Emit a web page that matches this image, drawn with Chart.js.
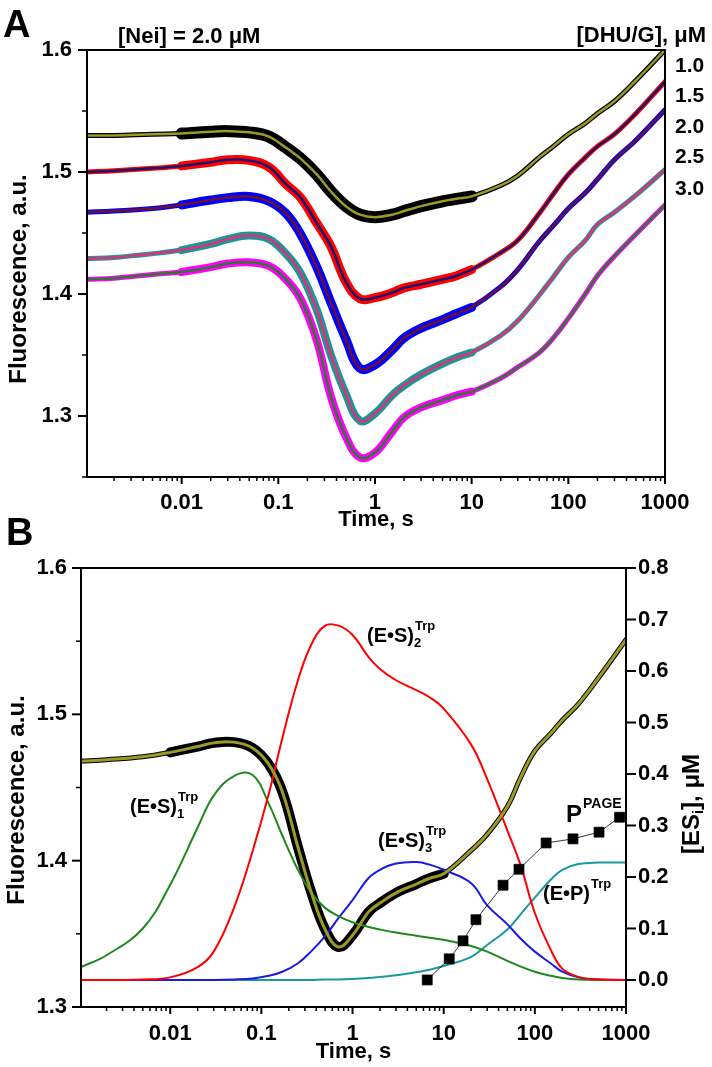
<!DOCTYPE html>
<html>
<head>
<meta charset="utf-8">
<script src="https://cdn.jsdelivr.net/npm/chart.js@4"></script>
<style>
body { margin:0; background:#fff; width:712px; height:1067px; position:relative; overflow:hidden; }
#chartA { position:absolute; left:0; top:0; }
#chartB { position:absolute; left:0; top:510px; }
</style>
</head>
<body>
<canvas id="chartA" width="712" height="540"></canvas>
<canvas id="chartB" width="712" height="557"></canvas>
<script>
// time points (s)
const times = [0.00105, 0.002, 0.005, 0.01, 0.02, 0.03, 0.05, 0.08, 0.12, 0.17, 0.25, 0.35, 0.5, 0.7,
               1, 1.5, 2, 3, 5, 7, 10, 20, 30, 50, 70, 100, 150, 200, 300, 500, 1000];

// panel A, fluorescence for each [DHU/G]
const dhu10 = [1.530, 1.530, 1.531, 1.5315, 1.533, 1.5335, 1.5325, 1.529, 1.520, 1.511, 1.498, 1.484, 1.472, 1.465,
               1.463, 1.465, 1.468, 1.472, 1.476, 1.478, 1.480, 1.489, 1.497, 1.512, 1.521, 1.531, 1.540, 1.548, 1.558, 1.575, 1.600];
const dhu15 = [1.500, 1.501, 1.503, 1.505, 1.508, 1.510, 1.5095, 1.504, 1.490, 1.479, 1.458, 1.439, 1.410, 1.396,
               1.397, 1.401, 1.405, 1.408, 1.412, 1.415, 1.420, 1.434, 1.444, 1.466, 1.482, 1.498, 1.512, 1.521, 1.531, 1.548, 1.574];
const dhu20 = [1.467, 1.468, 1.470, 1.473, 1.477, 1.479, 1.480, 1.476, 1.466, 1.449, 1.422, 1.393, 1.363, 1.339,
               1.342, 1.354, 1.364, 1.372, 1.379, 1.384, 1.389, 1.406, 1.420, 1.443, 1.456, 1.470, 1.483, 1.494, 1.510, 1.526, 1.551];
const dhu25 = [1.429, 1.430, 1.433, 1.436, 1.441, 1.445, 1.448, 1.445, 1.433, 1.417, 1.387, 1.350, 1.318, 1.296,
               1.302, 1.317, 1.325, 1.334, 1.343, 1.348, 1.352, 1.366, 1.378, 1.399, 1.414, 1.430, 1.444, 1.457, 1.467, 1.481, 1.502];
const dhu30 = [1.412, 1.413, 1.416, 1.418, 1.422, 1.425, 1.426, 1.423, 1.412, 1.396, 1.362, 1.316, 1.283, 1.266,
               1.270, 1.287, 1.299, 1.307, 1.313, 1.317, 1.320, 1.331, 1.340, 1.352, 1.364, 1.380, 1.400, 1.415, 1.431, 1.449, 1.473];
const concLabels = ['1.0', '1.5', '2.0', '2.5', '3.0'];

// panel B, fluorescence (left axis) and species (right axis, uM)
const fluorB = [1.468, 1.469, 1.471, 1.474, 1.478, 1.4805, 1.481, 1.477, 1.466, 1.447, 1.410, 1.379, 1.353, 1.341,
                1.349, 1.365, 1.371, 1.378, 1.384, 1.388, 1.391, 1.407, 1.418, 1.437, 1.457, 1.475, 1.487, 1.496, 1.507, 1.525, 1.551];
const es1 = [0.025, 0.048, 0.10, 0.185, 0.296, 0.358, 0.396, 0.398, 0.343, 0.28, 0.215, 0.17, 0.14, 0.124,
             0.112, 0.103, 0.098, 0.092, 0.086, 0.082, 0.078, 0.066, 0.055, 0.037, 0.026, 0.016, 0.008, 0.004, 0.001, 0, 0];
const es2 = [0, 0, 0.001, 0.005, 0.025, 0.055, 0.14, 0.25, 0.36, 0.47, 0.58, 0.65, 0.688, 0.688,
             0.67, 0.627, 0.604, 0.582, 0.563, 0.549, 0.527, 0.457, 0.39, 0.29, 0.222, 0.13, 0.058, 0.022, 0.006, 0.001, 0];
const es3 = [0, 0, 0, 0, 0, 0, 0.001, 0.003, 0.008, 0.016, 0.032, 0.055, 0.085, 0.12,
             0.155, 0.198, 0.214, 0.226, 0.229, 0.224, 0.214, 0.188, 0.145, 0.108, 0.08, 0.055, 0.032, 0.016, 0.005, 0.001, 0];
const ep = [0, 0, 0, 0, 0, 0, 0, 0, 0, 0, 0, 0, 0.001, 0.001,
            0.002, 0.004, 0.006, 0.009, 0.015, 0.02, 0.027, 0.045, 0.068, 0.098, 0.128, 0.16, 0.195, 0.214, 0.225, 0.228, 0.228];
const pageTimes = [6.6, 11.5, 16.3, 22.6, 44.8, 67, 133, 262, 506, 850];
const pageVals = [0.0, 0.041, 0.076, 0.117, 0.184, 0.215, 0.266, 0.274, 0.287, 0.316];

// tick labels
const xDecades = [0.01, 0.1, 1, 10, 100, 1000];
const xTickLabels = ['0.01', '0.1', '1', '10', '100', '1000'];
const rightTicks = [0, 0.05, 0.1, 0.15, 0.2, 0.25, 0.3, 0.35, 0.4, 0.45, 0.5, 0.55, 0.6, 0.65, 0.7, 0.75, 0.8];

const FAM = '"Liberation Sans", Arial, sans-serif';
Chart.defaults.font.family = FAM;
Chart.defaults.font.weight = 'bold';
Chart.defaults.font.size = 22;
Chart.defaults.color = '#000';
const fnt = s => 'bold ' + s + 'px ' + FAM;

const pts = ys => times.map((t, i) => ({x: t, y: ys[i]}));
const span = (ys, lo, hi) => pts(ys).filter(p => p.x >= lo && p.x <= hi);

const logTicks = [];
for (let e = -3; e <= 2; e++) for (let m = 1; m <= 9; m++) {
  const v = m * Math.pow(10, e);
  if (v >= 0.00105) logTicks.push(v);
}
logTicks.push(1000);

function xLabel(v) {
  const i = xDecades.findIndex(d => Math.abs(d - v) / d < 1e-6);
  return i >= 0 ? xTickLabels[i] : '';
}
const tenth = v => Math.abs(v * 10 - Math.round(v * 10)) < 1e-6 ? v.toFixed(1) : '';

function line(data, color, width, order, axis) {
  return {data, borderColor: color, borderWidth: width, order, yAxisID: axis || 'y',
          showLine: true, pointRadius: 0, tension: 0.4,
          borderJoinStyle: 'round', borderCapStyle: 'round'};
}

function xAxis(h, pb, pad) {
  return {type: 'logarithmic', min: 0.00105, max: 1000,
    afterBuildTicks: s => { s.ticks = logTicks.map(v => ({value: v})); },
    afterFit: s => { s.height = h; },
    ticks: {callback: xLabel, padding: pad, maxRotation: 0, autoSkip: false},
    grid: {display: false, drawTicks: false},
    border: {display: true, width: 2, color: '#000'},
    title: {display: true, text: 'Time, s', font: {size: 22}, padding: {top: 0, bottom: pb}}};
}

// ticks and frame
const frame = {
  id: 'frame',
  afterDraw(chart) {
    const {ctx, chartArea: a} = chart;
    ctx.save();
    ctx.strokeStyle = '#000';
    ctx.lineWidth = 2;
    ctx.strokeRect(a.left, a.top, a.right - a.left, a.bottom - a.top);
    Object.values(chart.scales).forEach(s => {
      s.ticks.forEach(t => {
        const p = s.getPixelForValue(t.value);
        const major = t.label !== '';
        ctx.lineWidth = major ? 2 : 1.5;
        ctx.beginPath();
        if (s.position === 'bottom') {
          ctx.moveTo(p, s.top); ctx.lineTo(p, s.top + (major ? 7 : 4));
        } else if (s.position === 'left') {
          ctx.moveTo(s.right, p); ctx.lineTo(s.right - (major ? 9 : 5), p);
        } else {
          ctx.moveTo(s.left, p); ctx.lineTo(s.left + (major ? 10 : 5), p);
        }
        ctx.stroke();
      });
    });
    ctx.restore();
  }
};

function vtitle(ctx, x, y, parts) {
  ctx.save();
  ctx.translate(x, y);
  ctx.rotate(-Math.PI / 2);
  ctx.textBaseline = 'middle';
  let w = 0;
  parts.forEach(p => { ctx.font = fnt(p.size); w += ctx.measureText(p.t).width; });
  let cx = -w / 2;
  parts.forEach(p => {
    ctx.font = fnt(p.size);
    ctx.fillText(p.t, cx, p.dy || 0);
    cx += ctx.measureText(p.t).width;
  });
  ctx.restore();
}

function species(ctx, x, y, base, sub, sup) {
  ctx.font = fnt(20);
  ctx.fillText(base, x, y);
  const w = ctx.measureText(base).width;
  ctx.font = fnt(13);
  ctx.fillText(sup, x + w + 1, y - 12);
  if (sub) ctx.fillText(sub, x + w, y + 5);
}

// ---------- panel A ----------
const styleA = [
  {raw: '#000000', fit: '#9a9a24', band: 12},
  {raw: '#ff0000', fit: '#16166e', band: 9},
  {raw: '#0000ff', fit: '#6e0f2e', band: 9},
  {raw: '#1a9696', fit: '#e0307a', band: 8},
  {raw: '#ff00ff', fit: '#2d7a2d', band: 8}
];
const seriesA = [dhu10, dhu15, dhu20, dhu25, dhu30];
const dsA = [];
seriesA.forEach((ys, i) => {
  const st = styleA[i];
  dsA.push(line(pts(ys), st.fit, 2.5, 0));
  dsA.push(line(span(ys, 0.01, 10), st.raw, st.band, 5 + i));
  dsA.push(line(pts(ys), st.raw, 5, 10 + i));
});

new Chart(document.getElementById('chartA'), {
  type: 'scatter',
  data: {datasets: dsA},
  options: {
    responsive: false, animation: false,
    layout: {padding: {top: 50, right: 47, left: 0, bottom: 0}},
    plugins: {legend: {display: false}, tooltip: {enabled: false}},
    scales: {
      x: xAxis(63, 7, 13),
      y: {min: 1.25, max: 1.6,
        ticks: {stepSize: 0.05, callback: tenth, padding: 15},
        afterFit: s => { s.width = 87; },
        grid: {display: false, drawTicks: false},
        border: {display: true, width: 2, color: '#000'}}
    }
  },
  plugins: [frame, {
    id: 'textA',
    afterDraw(chart) {
      const ctx = chart.ctx;
      ctx.save();
      ctx.fillStyle = '#000';
      ctx.textBaseline = 'alphabetic';
      ctx.font = fnt(38);
      ctx.fillText('A', 3, 37);
      ctx.font = fnt(22);
      ctx.fillText('[Nei] = 2.0 \u03BCM', 118, 43);
      ctx.textAlign = 'right';
      ctx.fillText('[DHU/G], \u03BCM', 706, 42);
      ctx.textAlign = 'left';
      ctx.font = fnt(21);
      const yy = [72, 102, 133, 163, 195];
      concLabels.forEach((c, i) => ctx.fillText(c, 675, yy[i]));
      vtitle(ctx, 19, 279, [{t: 'Fluorescence, a.u.', size: 24}]);
      ctx.restore();
    }
  }]
});

// ---------- panel B ----------
const oB = 510;
const dsB = [
  line(pts(fluorB), '#9a9a24', 3, 0),
  line(pts(es2), '#ff0000', 2, 1, 'y2'),
  line(pts(es1), '#1e881e', 2, 1, 'y2'),
  line(pts(es3), '#1a1ae6', 2, 1, 'y2'),
  line(pts(ep), '#1a9999', 2, 1, 'y2'),
  Object.assign(line(pageTimes.map((t, i) => ({x: t, y: pageVals[i]})), '#000', 0.8, 0, 'y2'),
    {pointRadius: 7, pointStyle: 'rect', pointBackgroundColor: '#000', pointBorderColor: '#000', tension: 0}),
  line(span(fluorB, 0.01, 10), '#000', 10, 5),
  line(pts(fluorB), '#000', 5, 6)
];

new Chart(document.getElementById('chartB'), {
  type: 'scatter',
  data: {datasets: dsB},
  options: {
    responsive: false, animation: false,
    layout: {padding: {top: 58, right: 0, left: 0, bottom: 0}},
    plugins: {legend: {display: false}, tooltip: {enabled: false}},
    scales: {
      x: xAxis(60, 2, 14),
      y: {position: 'left', min: 1.3, max: 1.6,
        ticks: {stepSize: 0.05, callback: tenth, padding: 14},
        afterFit: s => { s.width = 81; },
        grid: {display: false, drawTicks: false},
        border: {display: true, width: 2, color: '#000'}},
      y2: {position: 'right', min: -0.0525, max: 0.8,
        afterBuildTicks: s => { s.ticks = rightTicks.map(v => ({value: v})); },
        ticks: {callback: tenth, padding: 12},
        afterFit: s => { s.width = 86; },
        grid: {display: false, drawTicks: false},
        border: {display: true, width: 2, color: '#000'}}
    }
  },
  plugins: [frame, {
    id: 'textB',
    afterDraw(chart) {
      const ctx = chart.ctx;
      ctx.save();
      ctx.fillStyle = '#000';
      ctx.font = fnt(38);
      ctx.fillText('B', 6, 545 - oB);
      species(ctx, 130, 813 - oB, '(E\u2022S)', '1', 'Trp');
      species(ctx, 367, 642 - oB, '(E\u2022S)', '2', 'Trp');
      species(ctx, 378, 847 - oB, '(E\u2022S)', '3', 'Trp');
      species(ctx, 543, 900 - oB, '(E\u2022P)', '', 'Trp');
      ctx.font = fnt(24);
      ctx.fillText('P', 566, 822 - oB);
      ctx.font = fnt(14);
      ctx.fillText('PAGE', 583, 808 - oB);
      vtitle(ctx, 17, 800 - oB, [{t: 'Fluorescence, a.u.', size: 24}]);
      vtitle(ctx, 692, 804 - oB, [{t: '[ES', size: 24}, {t: 'i', size: 15, dy: 7}, {t: '], \u03BCM', size: 24}]);
      ctx.restore();
    }
  }]
});
</script>
</body>
</html>
